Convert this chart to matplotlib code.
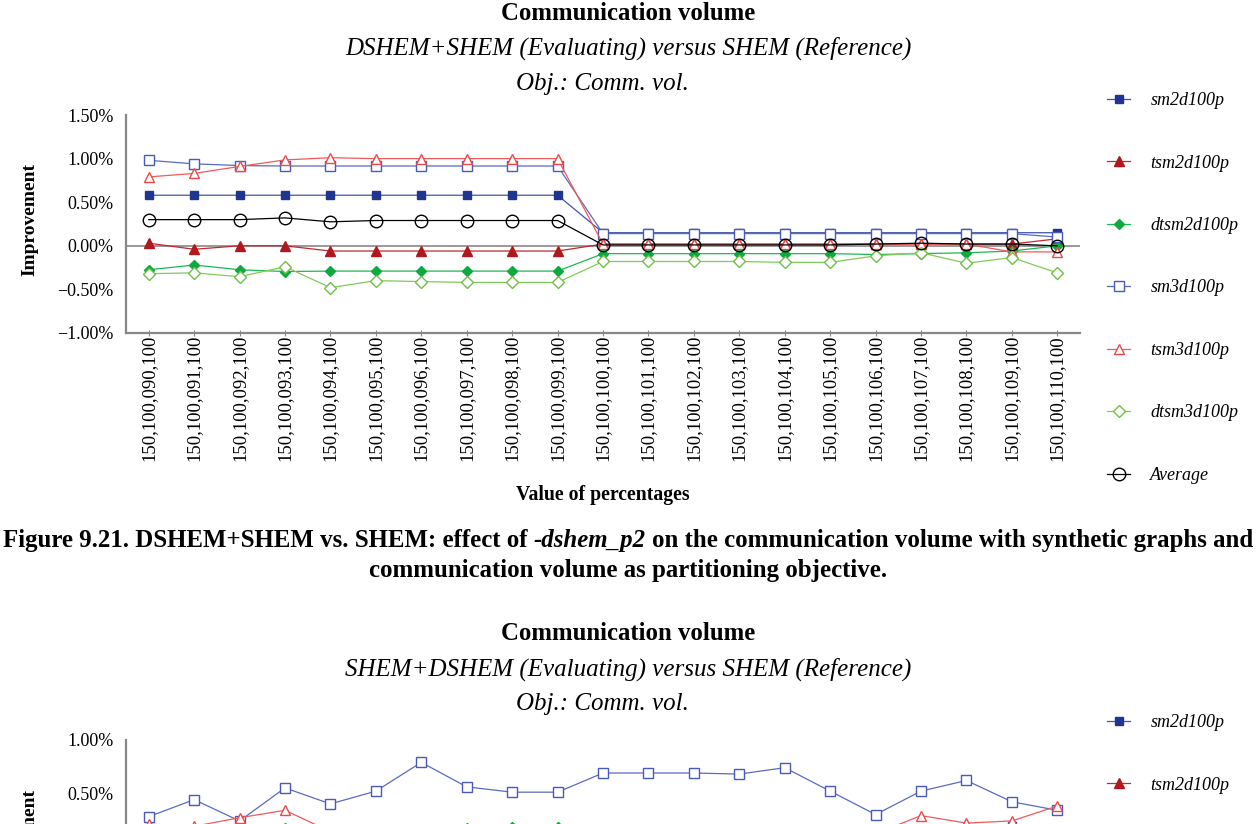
import numpy as np
import matplotlib
matplotlib.use("Agg")
import matplotlib.pyplot as plt
from matplotlib.ticker import FuncFormatter

plt.rcParams['font.family'] = ['Liberation Serif', 'DejaVu Serif']

W, H = 1256, 824

# categories: value of percentages
categories = ["150,100,%03d,100" % p for p in range(90, 111)]

series_names = ["sm2d100p", "tsm2d100p", "dtsm2d100p", "sm3d100p", "tsm3d100p", "dtsm3d100p", "Average"]

# chart 1: DSHEM+SHEM vs SHEM (values in %)
c1_sm2d100p = [0.58] * 10 + [0.15] * 11
c1_tsm2d100p = [0.03, -0.04, 0.00, 0.00, -0.06, -0.06, -0.06, -0.06, -0.06, -0.06,
                0.02, 0.02, 0.02, 0.02, 0.02, 0.02, 0.02, 0.02, 0.02, 0.02, 0.08]
c1_dtsm2d100p = [-0.275, -0.22, -0.275, -0.295, -0.29, -0.29, -0.29, -0.29, -0.29, -0.29,
                 -0.09, -0.09, -0.09, -0.09, -0.09, -0.09, -0.10, -0.09, -0.08, -0.06, 0.00]
c1_sm3d100p = [0.98, 0.94, 0.92, 0.915, 0.915, 0.915, 0.915, 0.915, 0.915, 0.915,
               0.14, 0.14, 0.14, 0.14, 0.14, 0.14, 0.14, 0.14, 0.14, 0.14, 0.10]
c1_tsm3d100p = [0.79, 0.83, 0.91, 0.985, 1.01, 1.00, 1.00, 1.00, 1.00, 1.00,
                0.02, 0.02, 0.02, 0.02, 0.02, 0.02, 0.02, 0.02, 0.02, -0.07, -0.07]
c1_dtsm3d100p = [-0.32, -0.31, -0.355, -0.24, -0.48, -0.40, -0.41, -0.42, -0.42, -0.42,
                 -0.18, -0.18, -0.18, -0.18, -0.19, -0.19, -0.115, -0.08, -0.20, -0.135, -0.31]
c1_average = [0.30, 0.30, 0.30, 0.32, 0.275, 0.29, 0.29, 0.29, 0.29, 0.29,
              0.01, 0.01, 0.01, 0.01, 0.01, 0.01, 0.02, 0.03, 0.02, 0.02, 0.00]

# chart 2: SHEM+DSHEM vs SHEM (only the top of it is on the page)
c2_sm2d100p = [0.10, 0.08, 0.09, 0.12, 0.10, 0.11, 0.12, 0.12, 0.13, 0.13,
               0.12, 0.12, 0.11, 0.12, 0.13, 0.12, 0.10, 0.12, 0.15, 0.19, 0.12]
c2_tsm2d100p = [0.05, 0.04, 0.06, 0.05, 0.03, 0.04, 0.05, 0.06, 0.05, 0.05,
                0.04, 0.04, 0.05, 0.04, 0.05, 0.06, 0.05, 0.07, 0.06, 0.08, 0.10]
c2_dtsm2d100p = [0.10, 0.09, 0.12, 0.17, 0.11, 0.12, 0.13, 0.17, 0.18, 0.18,
                 0.12, 0.12, 0.11, 0.10, 0.12, 0.11, 0.09, 0.12, 0.10, 0.12, 0.11]
c2_sm3d100p = [0.28, 0.44, 0.24, 0.55, 0.40, 0.52, 0.79, 0.56, 0.51, 0.51,
               0.69, 0.69, 0.69, 0.68, 0.74, 0.52, 0.30, 0.52, 0.62, 0.42, 0.34]
c2_tsm3d100p = [0.21, 0.19, 0.27, 0.34, 0.14, 0.10, 0.08, 0.09, 0.10, 0.10,
                0.06, 0.06, 0.07, 0.06, 0.05, 0.08, 0.12, 0.29, 0.22, 0.24, 0.38]
c2_dtsm3d100p = [0.02, 0.00, 0.03, 0.04, -0.02, 0.01, 0.03, 0.02, 0.01, 0.01,
                 0.00, 0.01, 0.02, 0.00, 0.01, 0.02, -0.01, 0.03, 0.02, 0.00, 0.01]
c2_average = [0.13, 0.14, 0.13, 0.14, 0.10, 0.12, 0.13, 0.14, 0.13, 0.13,
              0.12, 0.12, 0.13, 0.12, 0.13, 0.13, 0.11, 0.14, 0.14, 0.14, 0.14]

styles = {
    "sm2d100p":   dict(color="#3f55a8", marker="s", ms=6, mfc="#1f3590", mec="#1f3590"),
    "tsm2d100p":  dict(color="#c0282c", marker="^", ms=7.5, mfc="#b0181e", mec="#b0181e"),
    "dtsm2d100p": dict(color="#1cb850", marker="D", ms=5.5, mfc="#10a840", mec="#10a840"),
    "sm3d100p":   dict(color="#5a6ac0", marker="s", ms=6.5, mfc="white", mec="#4a5ab8"),
    "tsm3d100p":  dict(color="#f05a5a", marker="^", ms=7.5, mfc="white", mec="#f04848"),
    "dtsm3d100p": dict(color="#80cc58", marker="D", ms=6, mfc="white", mec="#70c048"),
    "Average":    dict(color="#000000", marker="o", ms=9, mfc="none", mec="#000000"),
}


def fx(x):
    return x / W


def fy(y):
    return 1 - y / H


def pct(v, pos):
    s = "%.2f%%" % abs(v)
    return ("\u2212" + s) if v < 0 else s


def draw_chart(ax, data, ylim, yticks, show_xlabels=True):
    x = np.arange(len(categories))
    lines = []
    for name, vals in zip(series_names, data):
        st = styles[name]
        ln, = ax.plot(x, vals, lw=0.9, label=name, mew=1.0, clip_on=False, **st)
        lines.append(ln)
    ax.axhline(0, color="#888888", lw=1.2, zorder=0)
    ax.set_xlim(-0.5, len(categories) - 0.5)
    ax.set_ylim(*ylim)
    ax.set_yticks(yticks)
    ax.yaxis.set_major_formatter(FuncFormatter(pct))
    ax.set_xticks(x)
    if show_xlabels:
        ax.set_xticklabels(categories, rotation=90, fontsize=13.5)
    else:
        ax.set_xticklabels([])
    ax.tick_params(axis="y", labelsize=13, length=0, pad=9)
    ax.tick_params(axis="x", direction="inout", length=5, color="#888888", pad=-1)
    for s in ("top", "right"):
        ax.spines[s].set_visible(False)
    for s in ("left", "bottom"):
        ax.spines[s].set_color("#888888")
        ax.spines[s].set_linewidth(1.6)
    return lines


fig = plt.figure(figsize=(W / 100, H / 100), dpi=100)

leg_kw = dict(loc="upper left", frameon=False, handlelength=1.3,
              handletextpad=1.1, borderpad=0, borderaxespad=0, labelspacing=2.52,
              prop=dict(family="Liberation Serif", style="italic", size=13))

# chart 1
ax1 = fig.add_axes([fx(126), fy(333), fx(1080) - fx(126), fy(115) - fy(333)])
lines1 = draw_chart(ax1, [c1_sm2d100p, c1_tsm2d100p, c1_dtsm2d100p, c1_sm3d100p,
                          c1_tsm3d100p, c1_dtsm3d100p, c1_average],
                    (-1.0, 1.5), [-1.0, -0.5, 0.0, 0.5, 1.0, 1.5])

fig.text(fx(628), fy(14), "Communication volume", ha="center", va="center",
         fontsize=17.8, fontweight="bold")
fig.text(fx(628), fy(48), "DSHEM+SHEM (Evaluating) versus SHEM (Reference)", ha="center",
         va="center", fontsize=18, style="italic")
fig.text(fx(602), fy(84), "Obj.: Comm. vol.", ha="center", va="center",
         fontsize=18, style="italic")
fig.text(fx(30), fy(220), "Improvement", rotation=90, ha="center", va="center",
         fontsize=14, fontweight="bold")
fig.text(fx(603), fy(495), "Value of percentages", ha="center", va="center",
         fontsize=14.2, fontweight="bold")
fig.legend(handles=lines1, bbox_to_anchor=(fx(1107), fy(92)), **leg_kw)

# caption: first line mixes upright and italic bold text
cap_fs = 17.9
t1 = fig.text(0, fy(541), "Figure 9.21. DSHEM+SHEM vs. SHEM: effect of",
              ha="left", va="center", fontsize=cap_fs, fontweight="bold")
t2 = ax1.annotate("-dshem_p2", xy=(1, 0.5), xycoords=t1, xytext=(cap_fs * 0.25, 0),
                  textcoords="offset points", ha="left", va="center",
                  fontsize=cap_fs, fontweight="bold", style="italic", annotation_clip=False)
t3 = ax1.annotate("on the communication volume with synthetic graphs and", xy=(1, 0.5),
                  xycoords=t2, xytext=(cap_fs * 0.25, 0), textcoords="offset points",
                  ha="left", va="center", fontsize=cap_fs, fontweight="bold",
                  annotation_clip=False)
fig.canvas.draw()
r = fig.canvas.get_renderer()
x_left = t1.get_window_extent(r).x0
x_right = t3.get_window_extent(r).x1
t1.set_x(fx(628) - (x_right - x_left) / 2 / W)
fig.text(fx(628), fy(571), "communication volume as partitioning objective.",
         ha="center", va="center", fontsize=cap_fs, fontweight="bold")

# chart 2 (cut at page bottom)
ax2 = fig.add_axes([fx(126), fy(953), fx(1080) - fx(126), fy(740) - fy(953)])
lines2 = draw_chart(ax2, [c2_sm2d100p, c2_tsm2d100p, c2_dtsm2d100p, c2_sm3d100p,
                          c2_tsm3d100p, c2_dtsm3d100p, c2_average],
                    (-1.0, 1.0), [0.5, 1.0], show_xlabels=False)
fig.text(fx(628), fy(634), "Communication volume", ha="center", va="center",
         fontsize=17.8, fontweight="bold")
fig.text(fx(628), fy(669), "SHEM+DSHEM (Evaluating) versus SHEM (Reference)", ha="center",
         va="center", fontsize=18, style="italic")
fig.text(fx(602), fy(704), "Obj.: Comm. vol.", ha="center", va="center",
         fontsize=18, style="italic")
fig.text(fx(30), fy(845), "Improvement", rotation=90, ha="center", va="center",
         fontsize=14, fontweight="bold")
# only the first legend entries fall on the page
fig.legend(handles=lines2[:2], bbox_to_anchor=(fx(1107), fy(714)), **leg_kw)

fig.savefig("out.png", dpi=100)
